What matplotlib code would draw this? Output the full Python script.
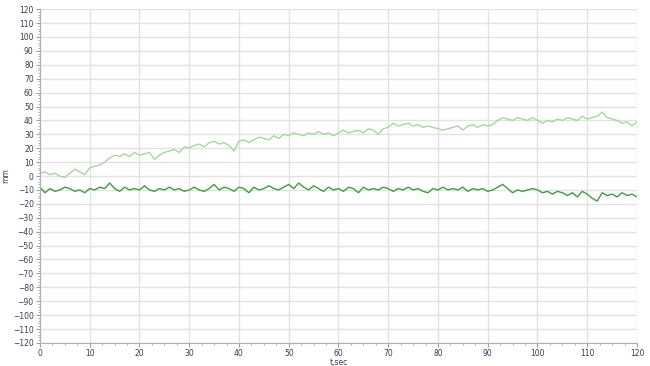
import matplotlib
matplotlib.use("Agg")
import matplotlib.pyplot as plt
from matplotlib.ticker import MultipleLocator

t = list(range(0, 121))
upper = [2, 3, 1, 2, 0, -1, 2, 5, 3, 1, 6, 7, 8, 10, 13, 15, 14, 16, 14, 17,
         15, 16, 17, 12, 15, 17, 18, 19, 17, 21, 20, 22, 23, 21, 24, 25, 23, 24, 22, 18,
         25, 26, 24, 26, 28, 27, 26, 29, 27, 30, 29, 31, 30, 29, 31, 30, 32, 30, 31, 29,
         31, 33, 31, 32, 33, 31, 34, 33, 30, 34, 35, 38, 36, 37, 38, 36, 37, 35, 36, 35,
         34, 33, 34, 35, 36, 33, 36, 37, 35, 37, 36, 37, 40, 42, 41, 40, 42, 41, 40, 42,
         40, 38, 40, 39, 41, 40, 42, 41, 40, 43, 41, 42, 43, 46, 42, 41, 40, 38, 39, 36, 39]
lower = [-8, -12, -9, -11, -10, -8, -9, -11, -10, -12, -9, -10, -8, -9, -5, -9, -11, -8, -10, -9,
         -10, -7, -10, -11, -9, -10, -8, -10, -9, -11, -10, -8, -10, -11, -9, -6, -10, -8, -9, -11,
         -8, -9, -12, -8, -10, -9, -7, -9, -10, -8, -6, -9, -5, -8, -10, -7, -9, -11, -8, -10,
         -9, -11, -8, -9, -12, -8, -10, -9, -10, -8, -9, -11, -9, -10, -8, -10, -9, -11, -12, -9,
         -10, -8, -10, -9, -10, -8, -11, -9, -10, -9, -11, -10, -8, -6, -9, -12, -10, -11, -10, -9,
         -10, -12, -11, -13, -11, -12, -14, -12, -15, -11, -13, -16, -18, -12, -14, -13, -15, -12, -14, -13, -15]

fig = plt.figure(figsize=(6.5, 3.66), dpi=100)
ax = fig.add_axes([0.0615, 0.063, 0.9185, 0.912])
ax.plot(t, upper, color="#a8d5a2", lw=1.0)
ax.plot(t, lower, color="#3e9e3e", lw=1.0)
ax.set_xlim(0, 120)
ax.set_ylim(-120, 120)
ax.xaxis.set_major_locator(MultipleLocator(10))
ax.xaxis.set_minor_locator(MultipleLocator(2.5))
ax.yaxis.set_major_locator(MultipleLocator(10))
ax.yaxis.set_minor_locator(MultipleLocator(2))
ax.grid(True, which="major", color="#e2e2e2", lw=1)
ax.set_axisbelow(True)
for s in ["top", "right"]:
    ax.spines[s].set_visible(False)
for s in ["left", "bottom"]:
    ax.spines[s].set_color("#b0b0b0")
ax.tick_params(which="major", length=3, width=0.8, color="#a0a0a0", labelsize=5.5,
               labelcolor="#3a3a5a", pad=1.5)
ax.tick_params(which="minor", length=1.5, width=0.6, color="#a0a0a0")
ax.set_xlabel("t,sec", fontsize=5.5, color="#3a3a5a", labelpad=0)
ax.set_ylabel("mm", fontsize=5.5, color="#3a3a5a", labelpad=2)
fig.savefig("out.png", dpi=100)
